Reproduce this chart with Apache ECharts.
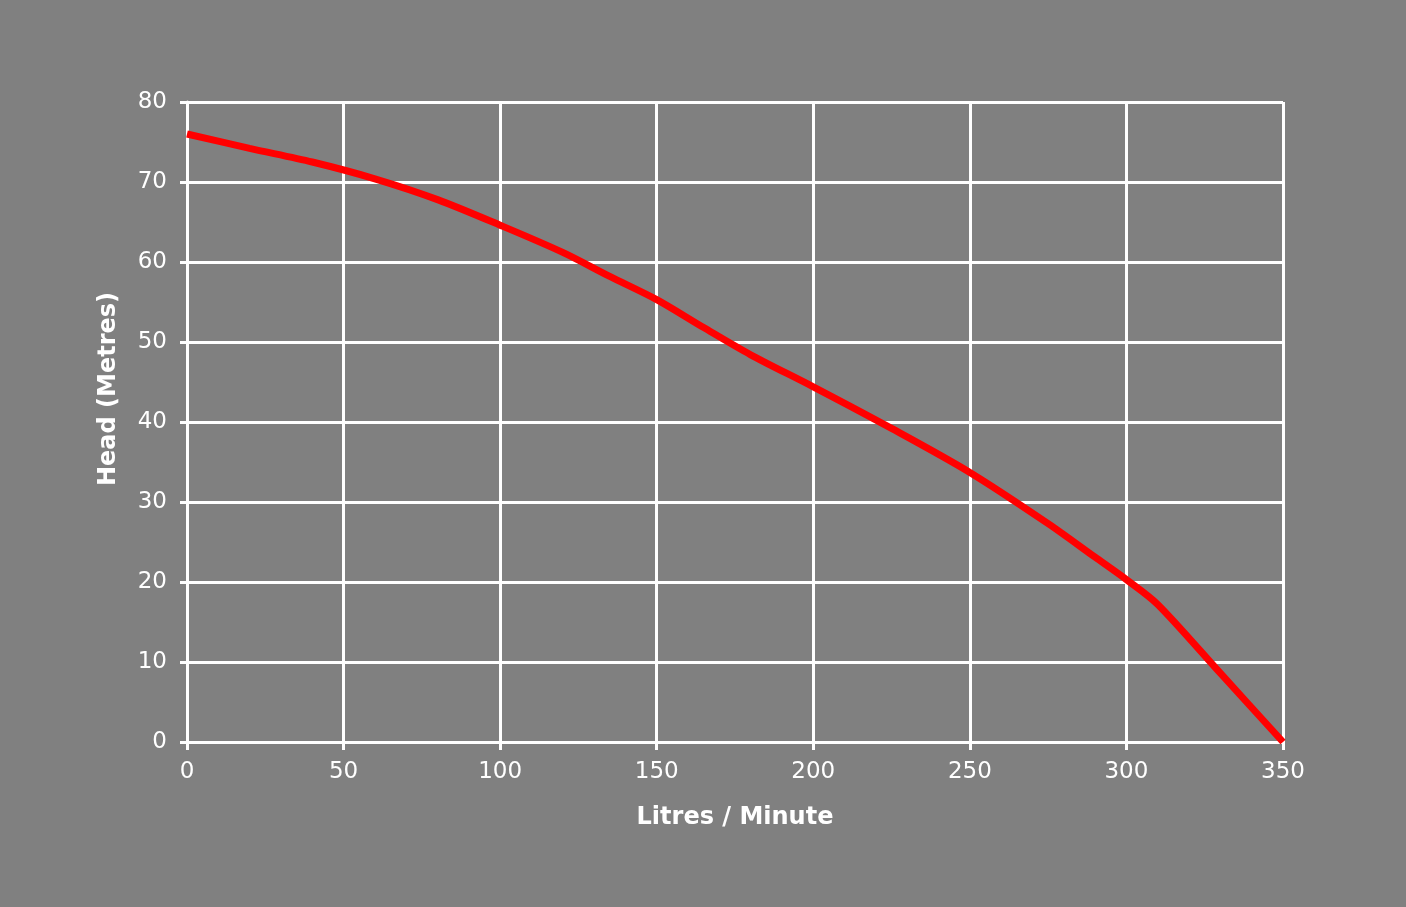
<!DOCTYPE html>
<html><head><meta charset="utf-8">
<script src="https://cdn.jsdelivr.net/npm/echarts@6/dist/echarts.min.js"></script>
<style>html,body{margin:0;padding:0;background:#808080}#c{width:1406px;height:907px}</style>
</head><body><div id="c"></div>
<script>
const flow = [0, 20, 40, 60, 80, 100, 120, 135, 150, 165, 180, 200, 225, 250, 275, 290, 300, 310, 330, 350];
const head = [76, 74.2, 72.5, 70.4, 67.8, 64.6, 61.2, 58.2, 55.3, 51.8, 48.4, 44.4, 39.2, 33.7, 27.3, 23.1, 20.3, 17.2, 8.6, 0];
const xTitle = 'Litres / Minute';
const yTitle = 'Head (Metres)';

const font = 'DejaVu Sans';
const chart = echarts.init(document.getElementById('c'));
chart.setOption({
  backgroundColor: '#808080',
  animation: false,
  grid: {left: 187, right: 123, top: 102, bottom: 165},
  xAxis: {
    type: 'value', min: 0, max: 350, interval: 50,
    name: xTitle, nameLocation: 'middle', nameGap: 64,
    nameTextStyle: {color: '#fff', fontSize: 24, fontFamily: font, fontWeight: 'bold'},
    axisLine: {show: true, lineStyle: {color: '#fff', width: 3}},
    axisTick: {show: true, length: 8, lineStyle: {color: '#fff', width: 3}},
    axisLabel: {color: '#fff', fontSize: 23, fontFamily: font, margin: 19},
    splitLine: {show: true, lineStyle: {color: '#fff', width: 3}}
  },
  yAxis: {
    type: 'value', min: 0, max: 80, interval: 10,
    axisLine: {show: true, lineStyle: {color: '#fff', width: 3}},
    axisTick: {show: true, length: 7, lineStyle: {color: '#fff', width: 3}},
    axisLabel: {color: '#fff', fontSize: 23, fontFamily: font, margin: 20},
    splitLine: {show: true, lineStyle: {color: '#fff', width: 3}}
  },
  graphic: [{
    type: 'text', left: 97, top: 292, rotation: Math.PI / 2,
    style: {text: yTitle, fill: '#fff', font: 'bold 24px "' + font + '"'}
  }],
  series: [{
    type: 'line', data: flow.map((x, i) => [x, head[i]]),
    smooth: 0.3, symbol: 'none',
    lineStyle: {color: '#ff0000', width: 7}
  }]
});
</script></body></html>
